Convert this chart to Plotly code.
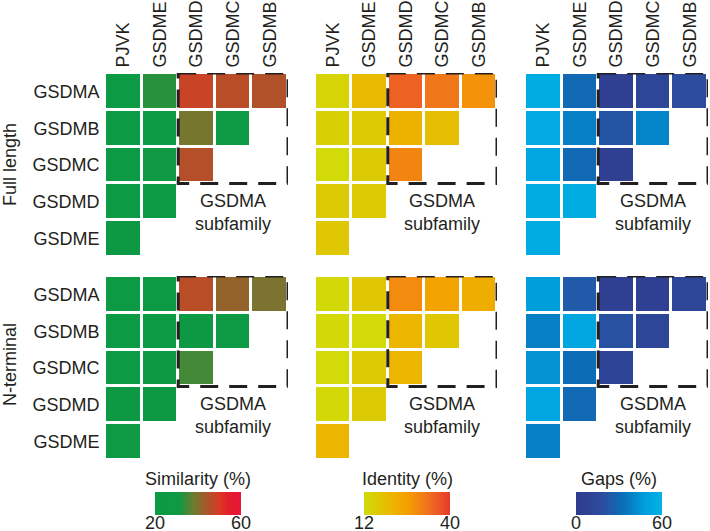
import plotly.graph_objects as go

cols = ["PJVK", "GSDME", "GSDMD", "GSDMC", "GSDMB"]
rows = ["GSDMA", "GSDMB", "GSDMC", "GSDMD", "GSDME"]

# similarity (%)
sim_full = [[25, 33, 48, 46, 45],
            [24, 25, 39, 29, None],
            [24, 30, 45.5, None, None],
            [24, 25, None, None, None],
            [26, None, None, None, None]]
sim_nterm = [[24, 25, 46, 42, 39.5],
             [25, 25, 26, 27, None],
             [25, 26, 35, None, None],
             [26, 26, None, None, None],
             [27, None, None, None, None]]

# identity (%)
idt_full = [[14, 20, 35, 32, 28],
            [15, 16, 22, 19, None],
            [12.5, 16, 30, None, None],
            [16, 16, None, None, None],
            [17, None, None, None, None]]
idt_nterm = [[13, 17, 29, 25, 23],
             [13, 12.5, 21, 17, None],
             [12.5, 16, 21, None, None],
             [13, 16, None, None, None],
             [21, None, None, None, None]]

# gaps (%)
gap_full = [[56, 30, 5, 12, 18],
            [55, 38, 22, 40, None],
            [52, 30, 6, None, None],
            [56, 56, None, None, None],
            [56, None, None, None, None]]
gap_nterm = [[48, 24, 5, 6, 12],
             [38, 52, 20, 12, None],
             [44, 32, 10, None, None],
             [52, 30, None, None, None],
             [38, None, None, None, None]]

sim_scale = [[0, "#0b9a46"], [0.28, "#0f9943"], [0.45, "#6c7c30"],
             [0.6, "#a8562a"], [0.75, "#d93a24"], [0.85, "#e31f2a"], [1, "#e8163a"]]
idt_scale = [[0, "#d0dc08"], [0.3, "#eab800"], [0.5, "#f5a000"],
             [0.75, "#f07020"], [1, "#e63a2c"]]
gap_scale = [[0, "#2f3a8c"], [0.3, "#2e4c9e"], [0.55, "#0a6fb8"],
             [0.8, "#009fdc"], [1, "#02b2e6"]]

W, H = 710, 531
FONT = "Liberation Sans, Arial, sans-serif"
TXT = "#231f20"
CB_LEN = 86

xdom = [(105, 288), (315, 497), (525, 708)]
ydom = [(73, 257), (276, 460)]

panels = [
    [(sim_full, sim_scale, 20, 60), (idt_full, idt_scale, 12, 40), (gap_full, gap_scale, 0, 60)],
    [(sim_nterm, sim_scale, 20, 60), (idt_nterm, idt_scale, 12, 40), (gap_nterm, gap_scale, 0, 60)],
]
cbars = [("Similarity (%)", 155), ("Identity (%)", 364), ("Gaps (%)", 576)]

fig = go.Figure()
layout = {}
n = 0
for r in range(2):
    for c in range(3):
        n += 1
        z, scale, zmin, zmax = panels[r][c]
        xa = "x" if n == 1 else "x%d" % n
        ya = "y" if n == 1 else "y%d" % n
        trace = go.Heatmap(z=z, x=cols, y=rows, colorscale=scale, zmin=zmin, zmax=zmax,
                           xgap=3, ygap=3, xaxis=xa, yaxis=ya, hoverongaps=False,
                           showscale=(r == 1))
        if r == 1:
            title, left = cbars[c]
            trace.colorbar = dict(
                orientation="h", x=left / W, xanchor="left", y=1 - 492 / H, yanchor="top",
                len=CB_LEN, lenmode="pixels", thickness=23, thicknessmode="pixels",
                xpad=0, ypad=0, outlinewidth=0, showticklabels=False, ticks="")
            fig.add_annotation(xref="paper", yref="paper", x=(left + CB_LEN / 2) / W,
                               y=1 - 479 / H, text=title, showarrow=False,
                               xanchor="center", yanchor="middle",
                               font=dict(size=18, color=TXT, family=FONT))
            for k, v in enumerate([zmin, zmax]):
                fig.add_annotation(xref="paper", yref="paper", x=(left + k * CB_LEN) / W,
                                   y=1 - 511 / H, text=str(v), showarrow=False,
                                   xanchor="center", yanchor="top",
                                   font=dict(size=18, color=TXT, family=FONT))
        fig.add_trace(trace)
        x0, x1 = xdom[c]
        y0, y1 = ydom[r]
        layout["xaxis" if n == 1 else "xaxis%d" % n] = dict(
            domain=[x0 / W, x1 / W], anchor=ya, range=[-0.5, 4.5], side="top",
            showticklabels=(r == 0), tickangle=-90, ticks="outside", ticklen=1,
            tickcolor="rgba(0,0,0,0)", showgrid=False, zeroline=False, showline=False,
            automargin=False, tickfont=dict(size=18, color=TXT, family=FONT))
        layout["yaxis" if n == 1 else "yaxis%d" % n] = dict(
            domain=[1 - y1 / H, 1 - y0 / H], anchor=xa, range=[4.5, -0.5],
            showticklabels=(c == 0), ticks="outside", ticklen=1,
            tickcolor="rgba(0,0,0,0)", showgrid=False, zeroline=False, showline=False,
            automargin=False, tickfont=dict(size=18, color=TXT, family=FONT))
        fig.add_shape(type="rect", xref=xa, yref=ya, x0=1.5, x1=4.5, y0=-0.5, y1=2.5,
                      line=dict(color=TXT, width=3, dash="18px,11px"))
        fig.add_annotation(xref=xa, yref=ya, x=3, y=3.28, text="GSDMA<br>subfamily",
                           showarrow=False, font=dict(size=18, color=TXT, family=FONT))

fig.add_annotation(xref="paper", yref="paper", x=10 / W, y=1 - 165 / H, text="Full length",
                   textangle=-90, showarrow=False, xanchor="center", yanchor="middle",
                   font=dict(size=18, color=TXT, family=FONT))
fig.add_annotation(xref="paper", yref="paper", x=10 / W, y=1 - 365 / H, text="N-terminal",
                   textangle=-90, showarrow=False, xanchor="center", yanchor="middle",
                   font=dict(size=18, color=TXT, family=FONT))

fig.update_layout(width=W, height=H, template="none",
                  margin=dict(l=0, r=0, t=0, b=0, autoexpand=False),
                  plot_bgcolor="white", paper_bgcolor="white", **layout)
fig.write_html("out.html", config={"displayModeBar": False},
               post_script="document.body.style.margin='0px';")
